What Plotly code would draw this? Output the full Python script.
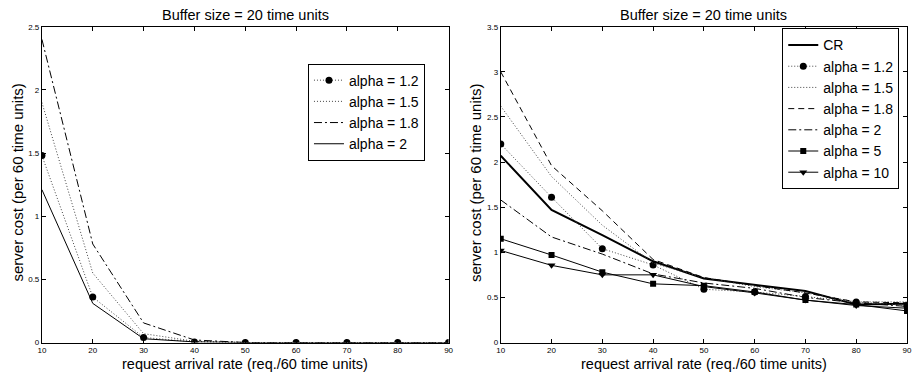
import plotly.graph_objects as go

x_rate = [10, 20, 30, 40, 50, 60, 70, 80, 90]

# Left panel
left_a12 = [1.48, 0.36, 0.04, 0.005, 0.0, 0.0, 0.0, 0.0, 0.0]
left_a15 = [1.90, 0.55, 0.07, 0.01, 0.0, 0.0, 0.0, 0.0, 0.0]
left_a18 = [2.40, 0.78, 0.155, 0.02, 0.0, 0.0, 0.0, 0.0, 0.0]
left_a2 = [1.21, 0.31, 0.03, 0.005, 0.0, 0.0, 0.0, 0.0, 0.0]

# Right panel
right_cr = [2.07, 1.47, 1.19, 0.90, 0.71, 0.64, 0.57, 0.42, 0.43]
right_a12 = [2.20, 1.61, 1.04, 0.86, 0.59, 0.56, 0.51, 0.45, 0.41]
right_a15 = [2.62, 1.84, 1.30, 0.88, 0.72, 0.62, 0.55, 0.45, 0.45]
right_a18 = [3.00, 1.96, 1.46, 0.92, 0.72, 0.63, 0.55, 0.45, 0.44]
right_a2 = [1.58, 1.17, 0.98, 0.76, 0.66, 0.60, 0.50, 0.44, 0.40]
right_a5 = [1.15, 0.97, 0.78, 0.65, 0.63, 0.56, 0.47, 0.42, 0.35]
right_a10 = [1.02, 0.855, 0.75, 0.75, 0.62, 0.55, 0.47, 0.41, 0.38]

title_text = "Buffer size = 20 time units"
xlabel = "request arrival rate (req./60 time units)"
ylabel = "server cost (per 60 time units)"

FONT = "Liberation Sans, Arial, sans-serif"
W, H = 914, 381

DOT = "1px,2px"
DASH = "6px,4px"
DASHDOT = "8px,3px,2px,3px"

fig = go.Figure()

def add(x, y, name, dash, width, xa, ya, legend, marker=None, msize=7, color="black"):
    mode = "lines+markers" if marker else "lines"
    fig.add_trace(go.Scatter(
        x=x, y=y, name=name, mode=mode,
        line=dict(color=color, width=width, dash=dash),
        marker=dict(symbol=marker or "circle", size=msize, color="black"),
        xaxis=xa, yaxis=ya, legend=legend,
    ))

add(x_rate, left_a12, "alpha = 1.2", DOT, 1, "x", "y", "legend", "circle", 7, "#444")
add(x_rate, left_a15, "alpha = 1.5", DOT, 1, "x", "y", "legend", None, 7, "#444")
add(x_rate, left_a18, "alpha = 1.8", DASHDOT, 1, "x", "y", "legend")
add(x_rate, left_a2, "alpha = 2", "solid", 1, "x", "y", "legend")

add(x_rate, right_cr, "CR", "solid", 2, "x2", "y2", "legend2")
add(x_rate, right_a12, "alpha = 1.2", DOT, 1, "x2", "y2", "legend2", "circle", 7, "#444")
add(x_rate, right_a15, "alpha = 1.5", DOT, 1, "x2", "y2", "legend2", None, 7, "#444")
add(x_rate, right_a18, "alpha = 1.8", DASH, 1, "x2", "y2", "legend2")
add(x_rate, right_a2, "alpha = 2", DASHDOT, 1, "x2", "y2", "legend2")
add(x_rate, right_a5, "alpha = 5", "solid", 1, "x2", "y2", "legend2", "square", 6)
add(x_rate, right_a10, "alpha = 10", "solid", 1, "x2", "y2", "legend2", "triangle-down", 7)

xl0, xl1 = 38.3 / W, 449 / W
xr0, xr1 = 501.7 / W, 912 / W
y0, y1 = 1 - 346.7 / H, 1 - 23.3 / H

axis_common = dict(
    showgrid=False, zeroline=False, showline=True, linecolor="black", linewidth=1,
    mirror="ticks", ticks="inside", ticklen=4, tickcolor="black",
    tickfont=dict(size=8, color="black", family=FONT),
)

legend_common = dict(xanchor="left", yanchor="top",
                     bordercolor="black", borderwidth=1, bgcolor="white",
                     font=dict(size=14, family=FONT, color="black"), tracegroupgap=0,
                     itemwidth=30)

fig.update_layout(
    width=W, height=H,
    margin=dict(l=0, r=0, t=0, b=0),
    paper_bgcolor="white", plot_bgcolor="white",
    font=dict(family=FONT, color="black"),
    xaxis=dict(domain=[xl0, xl1], range=[10, 90], tickvals=x_rate, anchor="y", **axis_common),
    yaxis=dict(domain=[y0, y1], range=[0, 2.5], tickvals=[0, 0.5, 1, 1.5, 2, 2.5],
               ticktext=["0", "0.5", "1", "1.5", "2", "2.5"], anchor="x", **axis_common),
    xaxis2=dict(domain=[xr0, xr1], range=[10, 90], tickvals=x_rate, anchor="y2", **axis_common),
    yaxis2=dict(domain=[y0, y1], range=[0, 3.5], tickvals=[0, 0.5, 1, 1.5, 2, 2.5, 3, 3.5],
                ticktext=["0", "0.5", "1", "1.5", "2", "2.5", "3", "3.5"], anchor="x2", **axis_common),
    legend=dict(x=307 / W, y=1 - 61 / H, **legend_common),
    legend2=dict(x=786 / W, y=1 - 25 / H, **legend_common),
    showlegend=True,
)

ann = []
for cx in [(xl0 + xl1) / 2, (xr0 + xr1) / 2]:
    ann.append(dict(text=title_text, x=cx, y=1 - 11 / H, xref="paper", yref="paper",
                    showarrow=False, xanchor="center", yanchor="middle",
                    font=dict(size=14.5, family=FONT, color="black")))
    ann.append(dict(text=xlabel, x=cx, y=1 - 369 / H, xref="paper", yref="paper",
                    showarrow=False, xanchor="center", yanchor="middle",
                    font=dict(size=14.5, family=FONT, color="black")))
for lx in [14 / W, 476 / W]:
    ann.append(dict(text=ylabel, x=lx, y=1 - 183 / H, xref="paper", yref="paper",
                    showarrow=False, xanchor="center", yanchor="middle", textangle=-90,
                    font=dict(size=15, family=FONT, color="black")))
fig.update_layout(annotations=ann)

fig.write_html("out.html", config={"displayModeBar": False},
               post_script="document.body.style.margin='0px';document.body.style.overflow='hidden';")
